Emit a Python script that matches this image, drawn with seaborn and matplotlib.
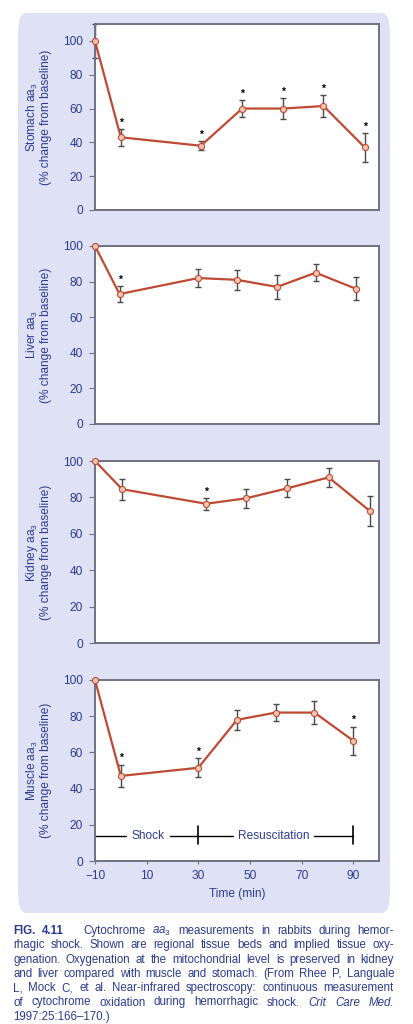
import numpy as np
import pandas as pd
import matplotlib
matplotlib.use("Agg")
import matplotlib.pyplot as plt
import seaborn as sns
from matplotlib.patches import FancyBboxPatch

# ---------------- data ----------------
stomach_time = [-10, 0, 31, 47, 63, 78.5, 94.5]
stomach_mean = [100, 43, 38, 60, 60, 61.5, 37]
stomach_err = [10, 5, 2.7, 5, 6, 6.3, 8.4]
stomach_sig = [False, True, True, True, True, True, True]

liver_time = [-10, -0.5, 30, 45, 60.5, 75.5, 91]
liver_mean = [100, 73, 82, 81, 77, 85, 76]
liver_err = [0, 4.6, 5, 5.5, 6.7, 4.8, 6.5]
liver_sig = [False, True, False, False, False, False, False]

kidney_time = [-10, 0.5, 33, 48.5, 64.5, 80.5, 96.5]
kidney_mean = [100, 84.5, 76.5, 79.5, 85, 91, 72.5]
kidney_err = [0, 5.8, 3.2, 5.2, 5, 5.3, 8.3]
kidney_sig = [False, False, True, False, False, False, False]

muscle_time = [-10, 0, 30, 45, 60, 75, 90]
muscle_mean = [100, 47, 51.5, 78, 82, 82, 66.5]
muscle_err = [0, 6.3, 5.2, 5.7, 4.8, 6.3, 7.7]
muscle_sig = [False, True, True, False, False, False, True]

panel_names = ["Stomach", "Liver", "Kidney", "Muscle"]
y_ticks = [0, 20, 40, 60, 80, 100]
x_ticks = [-10, 10, 30, 50, 70, 90]

caption_lines = [
    [("FIG.", "bold"), ("4.11", "bold"), ("", "gap"), ("Cytochrome", ""), ("$\\mathit{aa}_3$", "italic"),
     ("measurements", ""), ("in", ""), ("rabbits", ""), ("during", ""), ("hemor-", "")],
    "rhagic shock. Shown are regional tissue beds and implied tissue oxy-",
    "genation. Oxygenation at the mitochondrial level is preserved in kidney",
    "and liver compared with muscle and stomach. (From Rhee P, Languale",
    "L, Mock C, et al. Near-infrared spectroscopy: continuous measurement",
    [("of", ""), ("cytochrome", ""), ("oxidation", ""), ("during", ""), ("hemorrhagic", ""),
     ("shock.", ""), ("Crit", "italic"), ("Care", "italic"), ("Med.", "italic")],
    "1997:25:166\u2013170.)",
]

# ---------------- style ----------------
sns.set_theme(style="white")
plt.rcParams["font.family"] = ["Liberation Sans", "DejaVu Sans"]
plt.rcParams["mathtext.fontset"] = "custom"
plt.rcParams["mathtext.rm"] = "Liberation Sans"
plt.rcParams["mathtext.it"] = "Liberation Sans:italic"
plt.rcParams["mathtext.bf"] = "Liberation Sans:bold"

BLUE = "#2c3a8f"
LINE = "#bf4a33"
FACE = "#f6c4ae"
ERR = "#4a4a4a"
SPINE = "#6e7282"
BG = "#dfe2f4"
FS = 8.6

W, H = 413, 1024
fig = plt.figure(figsize=(W / 100, H / 100), dpi=100)
fig.patch.set_facecolor("white")

# lavender background panel
bg = FancyBboxPatch((18 / W, 1 - 913 / H), (390 - 18) / W, (913 - 13) / H,
                    boxstyle="round,pad=0,rounding_size=0.02",
                    transform=fig.transFigure, facecolor=BG, edgecolor="none", zorder=-10)
fig.patches.append(bg)

axes_px = [(24, 210), (246, 424), (461, 643), (680, 861)]
data = [
    (stomach_time, stomach_mean, stomach_err, stomach_sig, 110),
    (liver_time, liver_mean, liver_err, liver_sig, 100),
    (kidney_time, kidney_mean, kidney_err, kidney_sig, 100),
    (muscle_time, muscle_mean, muscle_err, muscle_sig, 100),
]

axes = []
for i, ((top, bot), (t, m, e, s, ymax)) in enumerate(zip(axes_px, data)):
    ax = fig.add_axes([95 / W, 1 - bot / H, (379 - 95) / W, (bot - top) / H])
    ax.set_zorder(1)
    ax.set_facecolor("white")
    df = pd.DataFrame({"time": t, "value": m})
    ax.errorbar(t, m, yerr=e, fmt="none", ecolor=ERR, elinewidth=1.0,
                capsize=2.3, capthick=1.0, zorder=2, clip_on=False)
    sns.lineplot(data=df, x="time", y="value", ax=ax, color=LINE, lw=1.6,
                 marker="o", markersize=4.4, markerfacecolor=FACE,
                 markeredgecolor=LINE, markeredgewidth=0.8, zorder=3, clip_on=False)
    for xi, yi, ei, si in zip(t, m, e, s):
        if si:
            ax.annotate("*", (xi, yi + ei), xytext=(0, 1.0), textcoords="offset points",
                        ha="center", va="bottom", fontsize=7.5, color="black", fontweight="bold")
    ax.set_xlim(-10, 100)
    ax.set_ylim(0, ymax)
    ax.set_yticks(y_ticks)
    ax.set_yticklabels([str(v) for v in y_ticks], color=BLUE, fontsize=FS)
    ax.tick_params(axis="y", which="both", left=True, length=4.3, width=0.8,
                   color=SPINE, pad=4.5)
    for sp in ax.spines.values():
        sp.set_color(SPINE)
        sp.set_linewidth(1.4)
    ax.set_xlabel("")
    ax.set_ylabel(f"{panel_names[i]} aa$_3$\n(% change from baseline)", color=BLUE,
                  fontsize=FS, linespacing=1.0)
    ax.yaxis.set_label_coords(-0.150, 0.5)
    if i < 3:
        ax.set_xticks([])
    else:
        ax.set_xticks(x_ticks)
        ax.set_xticklabels(["\u221210" if v < 0 else str(v) for v in x_ticks],
                           color=BLUE, fontsize=FS)
        ax.tick_params(axis="x", bottom=True, length=2.5, width=0.8, color=SPINE, pad=4)
        ax.set_xlabel("Time (min)", color=BLUE, fontsize=FS, labelpad=4)
    axes.append(ax)

# Shock / Resuscitation annotation on muscle panel
axm = axes[3]
yb = 14
axm.plot([-10, 2], [yb, yb], color="black", lw=1.0)
axm.plot([19, 30], [yb, yb], color="black", lw=1.0)
axm.plot([30, 43.6], [yb, yb], color="black", lw=1.0)
axm.plot([74.8, 90], [yb, yb], color="black", lw=1.0)
axm.plot([30, 30], [9.3, 19.1], color="black", lw=1.2)
axm.plot([90, 90], [9.3, 19.1], color="black", lw=1.2)
axm.text(10.5, yb, "Shock", color=BLUE, fontsize=FS, ha="center", va="center")
axm.text(59.2, yb, "Resuscitation", color=BLUE, fontsize=FS, ha="center", va="center")

# ---------------- caption with justification ----------------
fig.canvas.draw()
renderer = fig.canvas.get_renderer()
x0, x1 = 13, 394
base0, dy = 934, 14.3
cap_fs = 8.3


def make_words(line):
    if isinstance(line, str):
        return [(w, "") for w in line.split(" ")]
    return line


for li, line in enumerate(caption_lines):
    words = make_words(line)
    yfig = 1 - (base0 + li * dy) / H
    objs = []
    widths = []
    for w, style in words:
        if style == "gap":
            objs.append(None)
            widths.append(5.0)
            continue
        kw = dict(fontsize=cap_fs, color=BLUE, va="baseline", ha="left")
        if style == "bold":
            kw["fontweight"] = "bold"
        if style == "italic":
            kw["fontstyle"] = "italic"
        t = fig.text(0, yfig, w, **kw)
        bb = t.get_window_extent(renderer=renderer)
        objs.append(t)
        widths.append(bb.width)
    n_gaps = len(objs) - 1
    last = li == len(caption_lines) - 1
    if last:
        gap = 3.0
    else:
        gap = (x1 - x0 - sum(widths)) / max(n_gaps, 1)
    xp = x0
    for o, wdt in zip(objs, widths):
        if o is not None:
            o.set_x(xp / W)
        xp += wdt + gap

fig.savefig("out.png", dpi=100, facecolor="white")
